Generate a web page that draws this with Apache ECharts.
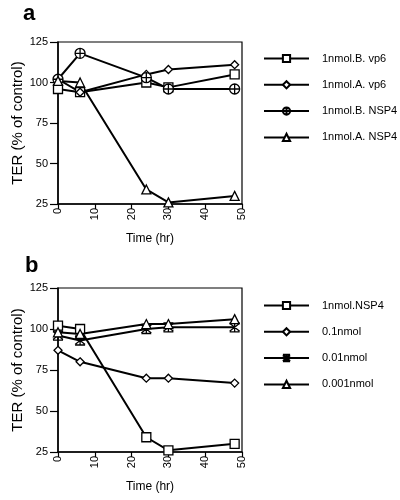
<!DOCTYPE html>
<html><head><meta charset="utf-8">
<script src="https://cdn.jsdelivr.net/npm/echarts@6/dist/echarts.min.js"></script>
<style>html,body{margin:0;padding:0;background:#fff}#c{width:400px;height:500px}</style>
</head><body><div id="c"></div>
<script>
const times = [0, 6, 24, 30, 48];
const namesA = ['1nmol.B. vp6', '1nmol.A. vp6', '1nmol.B. NSP4', '1nmol.A. NSP4'];
const aBvp6 = [96, 94, 100, 97, 105];
const aAvp6 = [102, 94, 105, 108, 111];
const aBnsp4 = [102, 118, 103, 96, 96];
const aAnsp4 = [101, 100, 34, 26, 30];
const namesB = ['1nmol.NSP4', '0.1nmol', '0.01nmol', '0.001nmol'];
const b1 = [102, 100, 34, 26, 30];
const b01 = [87, 80, 70, 70, 67];
const b001 = [96, 93, 100, 101, 101];
const b0001 = [98, 97, 103, 103, 106];
const xTicks = {min: 0, max: 50, interval: 10};
const yTicks = {min: 25, max: 125, interval: 25};

const FONT = 'Liberation Sans';
const circleCross = 'path://M10,0 A10,10 0 1,1 9.99,0 Z M0,10 L20,10 M10,0 L10,20';
const asterisk = 'path://M2,2 L18,18 M18,2 L2,18 M10,0 L10,20 M2,1 L18,1 M2,19 L18,19';
const symsA = ['rect', 'diamond', circleCross, 'triangle'];
const symsB = ['rect', 'diamond', asterisk, 'triangle'];
const sizesA = [9, 8, 10, 9];
const sizesB = [9, 8, 10, 9];

function pairs(v){ return times.map((t,i)=>[t, v[i]]); }
function mk(name, vals, sym, size, idx){
  return {name, type:'line', xAxisIndex:idx, yAxisIndex:idx, data:pairs(vals),
    symbol:sym, symbolSize:size, showAllSymbol:true,
    lineStyle:{color:'#000', width:2},
    itemStyle:{color:'#fff', borderColor:'#000', borderWidth:1.3},
    emphasis:{disabled:true}, animation:false, z: 3};
}
function xAxis(idx){
  return {type:'value', gridIndex:idx, min:xTicks.min, max:xTicks.max, interval:xTicks.interval,
    name:'Time (hr)', nameLocation:'middle', nameGap:29,
    nameTextStyle:{fontFamily:FONT, fontSize:12, color:'#000'},
    axisLine:{show:true, lineStyle:{color:'#000', width:1.5}},
    axisTick:{show:true, length:5, lineStyle:{color:'#000', width:1.2}},
    axisLabel:{rotate:90, fontFamily:FONT, fontSize:11, color:'#000', margin:4},
    splitLine:{show:false}};
}
function yAxis(idx){
  return {type:'value', gridIndex:idx, min:yTicks.min, max:yTicks.max, interval:yTicks.interval,
    name:'TER (% of control)', nameLocation:'middle', nameGap:32,
    nameTextStyle:{fontFamily:FONT, fontSize:15, color:'#000'},
    axisLine:{show:true, lineStyle:{color:'#000', width:1.5}},
    axisTick:{show:true, length:8, lineStyle:{color:'#000', width:1.2}},
    axisLabel:{fontFamily:FONT, fontSize:11, color:'#000', margin:10},
    splitLine:{show:false}};
}
const legendBase = {orient:'vertical', left:263, padding:0, itemWidth:45, itemHeight:9, itemGap:15.3,
  textStyle:{fontFamily:FONT, fontSize:11, color:'#000', padding:[0,0,0,8]}, selectedMode:false};
const chart = echarts.init(document.getElementById('c'), null, {renderer:'canvas'});
chart.setOption({
  animation:false,
  backgroundColor:'#fff',
  grid:[
    {left:58, top:42, width:184, height:162, show:true, borderColor:'#000', borderWidth:1.2, backgroundColor:'transparent'},
    {left:58, top:288, width:184, height:164, show:true, borderColor:'#000', borderWidth:1.2, backgroundColor:'transparent'}
  ],
  xAxis:[xAxis(0), xAxis(1)],
  yAxis:[yAxis(0), yAxis(1)],
  legend:[
    Object.assign({}, legendBase, {data:namesA, top:53}),
    Object.assign({}, legendBase, {data:namesB, top:300})
  ],
  graphic:[
    {type:'text', left:23, top:3, style:{text:'a', font:'bold 22px "Liberation Sans"', fill:'#000'}},
    {type:'text', left:25, top:255, style:{text:'b', font:'bold 22px "Liberation Sans"', fill:'#000'}}
  ],
  series:[
    mk(namesA[0], aBvp6, symsA[0], sizesA[0], 0),
    mk(namesA[1], aAvp6, symsA[1], sizesA[1], 0),
    mk(namesA[2], aBnsp4, symsA[2], sizesA[2], 0),
    mk(namesA[3], aAnsp4, symsA[3], sizesA[3], 0),
    mk(namesB[0], b1, symsB[0], sizesB[0], 1),
    mk(namesB[1], b01, symsB[1], sizesB[1], 1),
    mk(namesB[2], b001, symsB[2], sizesB[2], 1),
    mk(namesB[3], b0001, symsB[3], sizesB[3], 1)
  ]
});
</script></body></html>
